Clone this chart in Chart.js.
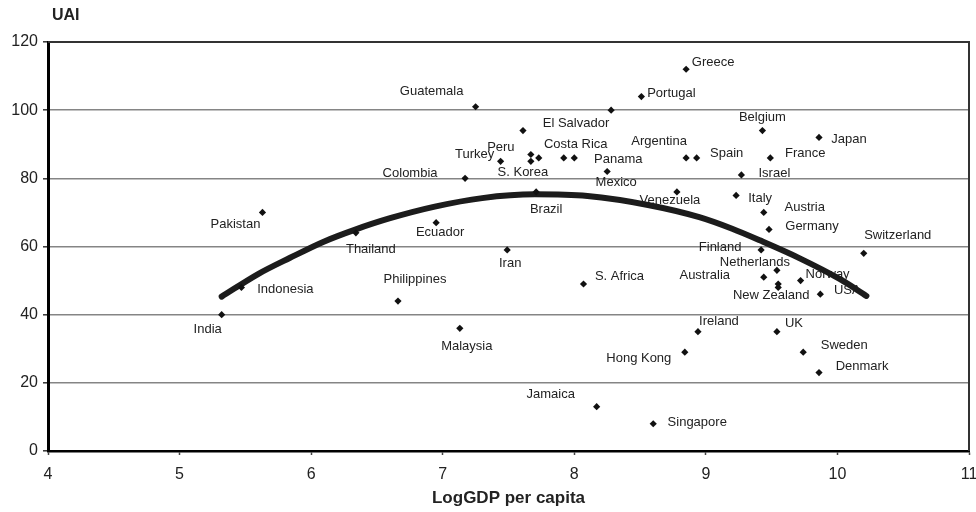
<!DOCTYPE html>
<html>
<head>
<meta charset="utf-8">
<script src="https://cdn.jsdelivr.net/npm/chart.js@4.4.1/dist/chart.umd.min.js"></script>
<style>
  html, body { margin: 0; padding: 0; background: #fff; }
  #wrap { width: 976px; height: 512px; }
</style>
</head>
<body>
<div id="wrap"><canvas id="c" width="976" height="512"></canvas></div>
<script>
// ---- Data ----
const countries = ["India","Indonesia","Pakistan","Thailand","Philippines","Ecuador","Malaysia","Colombia",
  "Guatemala","Turkey","Iran","El Salvador","Peru","S. Korea","Chile","Brazil","Costa Rica","Panama",
  "S. Africa","Jamaica","Mexico","Uruguay","Portugal","Singapore","Venezuela","Hong Kong","Greece",
  "Argentina","Spain","Ireland","Italy","Israel","Finland","Belgium","Australia","Austria","Germany",
  "France","UK","Netherlands","New Zealand","Canada","Norway","Sweden","Denmark","Japan","USA","Switzerland"];
const logGdp = [5.32,5.47,5.63,6.34,6.66,6.95,7.13,7.17,
  7.25,7.44,7.49,7.61,7.67,7.67,7.73,7.71,7.92,8.00,
  8.07,8.17,8.25,8.28,8.51,8.60,8.78,8.84,8.85,
  8.85,8.93,8.94,9.23,9.27,9.42,9.43,9.44,9.44,9.48,
  9.49,9.54,9.54,9.55,9.55,9.72,9.74,9.86,9.86,9.87,10.20];
const uai = [40,48,70,64,44,67,36,80,
  101,85,59,94,87,85,86,76,86,86,
  49,13,82,100,104,8,76,29,112,
  86,86,35,75,81,59,94,51,70,65,
  86,35,53,49,48,50,29,23,92,46,58];
// fitted curve, read along the drawn band
const curveX = [5.32,5.6,5.84,6.1,6.33,6.6,6.94,7.3,7.7,8.1,8.57,8.95,9.2,9.41,9.71,10.02,10.22];
const curveY = [45.3,52,56.7,61.5,64.9,68.3,71.7,74.2,75.3,74.8,72.1,68.6,65.2,61.8,56.6,50.4,45.5];
const xTicks = [4,5,6,7,8,9,10,11];
const yTicks = [0,20,40,60,80,100,120];

// ---- label placement (pixel offsets from marker, centre of text) ----
const labelOffsets = {
  "India":[-14,15],"Indonesia":[44,2],"Pakistan":[-27,12],"Thailand":[15,17],"Philippines":[17,-22],
  "Ecuador":[4,10],"Malaysia":[7,18],"Colombia":[-55,-5],"Guatemala":[-44,-15],"Turkey":[-26,-7],
  "Iran":[3,14],"El Salvador":[53,-7],"Peru":[-30,-7],"S. Korea":[-8,11],"Brazil":[10,17],
  "Costa Rica":[12,-13],"Panama":[44,2],"S. Africa":[36,-8],"Jamaica":[-46,-12],"Mexico":[9,11],
  "Portugal":[30,-3],"Singapore":[44,-1],"Venezuela":[-7,8],"Hong Kong":[-46,6],"Greece":[27,-7],
  "Argentina":[-27,-16],"Spain":[30,-4],"Ireland":[21,-10],"Italy":[24,3],"Israel":[33,-2],
  "Finland":[-41,-2],"Belgium":[0,-13],"Australia":[-59,-2],"Austria":[41,-5],"Germany":[43,-3],
  "France":[35,-4],"UK":[17,-8],"Netherlands":[-22,-8],"New Zealand":[-7,11],"Norway":[27,-6],
  "Sweden":[41,-7],"Denmark":[43,-6],"Japan":[30,2],"USA":[27,-4],"Switzerland":[34,-18]
};

const FONT = "'Liberation Sans', Arial, Helvetica, sans-serif";

const bgPlugin = {
  id: 'bg',
  beforeDraw(chart) {
    const ctx = chart.ctx;
    ctx.save(); ctx.fillStyle = '#fff'; ctx.fillRect(0, 0, chart.width, chart.height); ctx.restore();
  }
};
const labelPlugin = {
  id: 'pointLabels',
  beforeDatasetsDraw(chart) {
    const ctx = chart.ctx, xs = chart.scales.x, ys = chart.scales.y;
    ctx.save();
    ctx.font = '13px ' + FONT;
    ctx.fillStyle = '#222';
    ctx.textAlign = 'center';
    ctx.textBaseline = 'middle';
    countries.forEach((name, i) => {
      const off = labelOffsets[name];
      if (!off) return;
      const px = xs.getPixelForValue(logGdp[i]);
      const py = ys.getPixelForValue(uai[i]);
      ctx.fillText(name, px + off[0], py + off[1]);
    });
    ctx.restore();
  },
  afterDraw(chart) {
    const ctx = chart.ctx, a = chart.chartArea;
    ctx.save();
    ctx.strokeStyle = '#333';
    ctx.lineWidth = 2;
    ctx.beginPath();
    ctx.moveTo(a.left, a.top); ctx.lineTo(a.right, a.top); ctx.lineTo(a.right, a.bottom);
    ctx.stroke();
    ctx.font = 'bold 16px ' + FONT;
    ctx.fillStyle = '#222';
    ctx.textAlign = 'left';
    ctx.textBaseline = 'middle';
    ctx.fillText('UAI', 52, 16);
    ctx.restore();
  }
};

new Chart(document.getElementById('c'), {
  type: 'scatter',
  data: {
    datasets: [
      {
        label: 'countries',
        data: logGdp.map((x, i) => ({ x: x, y: uai[i] })),
        pointStyle: 'rectRot',
        pointRadius: 3.6,
        pointHoverRadius: 3.6,
        backgroundColor: '#111',
        borderColor: '#111',
        borderWidth: 0,
        order: 0
      },
      {
        label: 'fit',
        type: 'line',
        data: curveX.map((x, i) => ({ x: x, y: curveY[i] })),
        borderColor: '#1c1c1c',
        borderWidth: 6,
        pointRadius: 0,
        fill: false,
        cubicInterpolationMode: 'monotone',
        borderCapStyle: 'round',
        order: 1
      }
    ]
  },
  options: {
    responsive: false,
    animation: false,
    layout: { padding: { top: 42, right: 7, left: 0, bottom: 0 } },
    plugins: { legend: { display: false }, tooltip: { enabled: false }, title: { display: false } },
    scales: {
      x: {
        type: 'linear',
        min: 4, max: 11,
        afterFit(s) { s.height = 61; s.paddingRight = 0; s.paddingLeft = 0; },
        afterBuildTicks(s) { s.ticks = xTicks.map(v => ({ value: v })); },
        grid: { drawOnChartArea: false, drawTicks: true, tickLength: 4, tickColor: '#444', tickWidth: 1.5 },
        border: { display: true, color: '#000', width: 2.5 },
        ticks: { color: '#222', font: { family: FONT, size: 16 }, padding: 10, maxRotation: 0 },
        title: { display: true, text: 'LogGDP per capita', color: '#222',
                 font: { family: FONT, size: 17, weight: 'bold' }, padding: { top: 0, bottom: 3 } }
      },
      y: {
        type: 'linear',
        min: 0, max: 120,
        afterFit(s) { s.width = 48; s.paddingTop = 0; s.paddingBottom = 0; },
        afterBuildTicks(s) { s.ticks = yTicks.map(v => ({ value: v })); },
        grid: {
          drawTicks: true, tickLength: 5,
          color: (c) => (c.tick && (c.tick.value === 0 || c.tick.value === 120)) ? 'rgba(0,0,0,0)' : '#858585',
          lineWidth: 1.6,
          tickColor: '#333', tickWidth: 1.5
        },
        border: { display: true, color: '#000', width: 3 },
        ticks: { color: '#222', font: { family: FONT, size: 16 }, padding: 5 }
      }
    }
  },
  plugins: [bgPlugin, labelPlugin]
});
</script>
</body>
</html>
